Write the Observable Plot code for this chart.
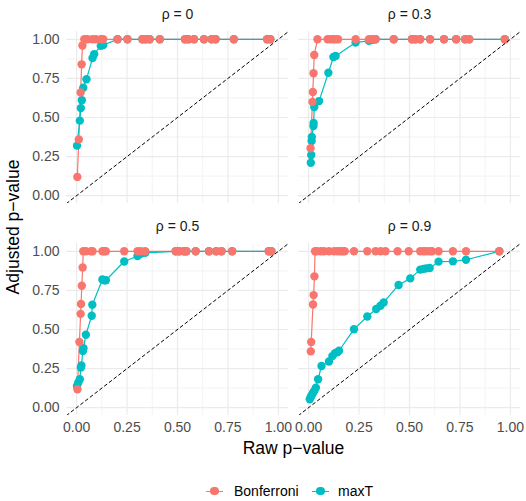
<!DOCTYPE html>
<html>
<head>
<meta charset="utf-8">
<script src="https://cdn.jsdelivr.net/npm/d3@7"></script>
<script src="https://cdn.jsdelivr.net/npm/@observablehq/plot@0.6"></script>
<style>
  body { margin: 0; background: #ffffff; }
  #wrap { position: relative; width: 526px; height: 501px; font-family: "Liberation Sans", Arial, sans-serif; background: #fff; }
  #wrap svg { display: block; }
  .ttl { position: absolute; color: #000; font-size: 17.5px; white-space: nowrap; }
  .leg { position: absolute; font-size: 14px; color: #000; white-space: nowrap; }
  .key { position: absolute; width: 17px; height: 17px; }
  .key .ln { position: absolute; left: 0; top: 8px; width: 17px; height: 1.2px; }
  .key .pt { position: absolute; left: 4.3px; top: 4.3px; width: 8.4px; height: 8.4px; border-radius: 50%; }
</style>
</head>
<body>
<div id="wrap"></div>
<script>
// ---- data ----
const panelLabels = ["ρ = 0", "ρ = 0.3", "ρ = 0.5", "ρ = 0.9"];
const methods = ["Bonferroni", "maxT"];
const methodColors = ["#F8766D", "#00BFC4"];
const tickValues = [0, 0.25, 0.5, 0.75, 1];
const minorTickValues = [0.125, 0.375, 0.625, 0.875];
const axisDomain = [-0.05, 1.05];

// rho = 0
const bonfRaw0 = [0.0036, 0.011, 0.020, 0.025, 0.029, 0.038, 0.054, 0.079, 0.095, 0.120, 0.132, 0.203, 0.252, 0.326, 0.343, 0.362, 0.412, 0.537, 0.554, 0.582, 0.631, 0.669, 0.689, 0.779, 0.944, 0.960];
const bonfAdj0 = [0.12, 0.36, 0.66, 0.84, 0.96, 1, 1, 1, 1, 1, 1, 1, 1, 1, 1, 1, 1, 1, 1, 1, 1, 1, 1, 1, 1, 1];
const maxTRaw0 = [0.002, 0.016, 0.021, 0.026, 0.033, 0.049, 0.079, 0.087, 0.120, 0.132, 0.203, 0.252, 0.326, 0.343, 0.362, 0.412, 0.537, 0.554, 0.582, 0.631, 0.669, 0.689, 0.779, 0.944, 0.960];
const maxTAdj0 = [0.32, 0.48, 0.56, 0.61, 0.69, 0.745, 0.88, 0.905, 0.958, 0.964, 1, 1, 1, 1, 1, 1, 1, 1, 1, 1, 1, 1, 1, 1, 1];

// rho = 0.3
const bonfRaw1 = [0.0095, 0.019, 0.021, 0.0245, 0.028, 0.044, 0.094, 0.110, 0.123, 0.134, 0.146, 0.233, 0.299, 0.315, 0.332, 0.422, 0.512, 0.529, 0.553, 0.602, 0.671, 0.731, 0.775, 0.796, 0.972];
const bonfAdj1 = [0.303, 0.60, 0.663, 0.783, 0.90, 1, 1, 1, 1, 1, 1, 1, 1, 1, 1, 1, 1, 1, 1, 1, 1, 1, 1, 1, 1];
const maxTRaw1 = [0.011, 0.013, 0.015, 0.016, 0.024, 0.025, 0.028, 0.052, 0.098, 0.123, 0.134, 0.233, 0.299, 0.315, 0.332, 0.422, 0.512, 0.529, 0.553, 0.602, 0.671, 0.731, 0.775, 0.796, 0.972];
const maxTAdj1 = [0.211, 0.26, 0.35, 0.375, 0.446, 0.465, 0.567, 0.605, 0.786, 0.887, 0.893, 0.98, 0.99, 0.995, 1, 1, 1, 1, 1, 1, 1, 1, 1, 1, 1];

// rho = 0.5
const bonfRaw2 = [0.004, 0.014, 0.020, 0.022, 0.026, 0.030, 0.033, 0.046, 0.071, 0.079, 0.128, 0.137, 0.145, 0.236, 0.302, 0.318, 0.340, 0.491, 0.508, 0.532, 0.544, 0.590, 0.656, 0.692, 0.718, 0.771, 0.952, 0.965];
const bonfAdj2 = [0.118, 0.42, 0.60, 0.663, 0.78, 0.897, 1, 1, 1, 1, 1, 1, 1, 1, 1, 1, 1, 1, 1, 1, 1, 1, 1, 1, 1, 1, 1, 1];
const maxTRaw2 = [0.002, 0.008, 0.016, 0.021, 0.024, 0.031, 0.034, 0.046, 0.075, 0.078, 0.128, 0.137, 0.145, 0.236, 0.302, 0.318, 0.340, 0.491, 0.508, 0.532, 0.544, 0.590, 0.656, 0.692, 0.718, 0.771, 0.952, 0.965];
const maxTAdj2 = [0.139, 0.16, 0.182, 0.256, 0.27, 0.363, 0.38, 0.466, 0.588, 0.658, 0.82, 0.815, 0.815, 0.935, 0.97, 0.985, 0.99, 1, 1, 1, 1, 1, 1, 1, 1, 1, 1, 1];

// rho = 0.9
const bonfRaw3 = [0.011, 0.013, 0.022, 0.025, 0.029, 0.032, 0.041, 0.061, 0.077, 0.101, 0.126, 0.143, 0.156, 0.168, 0.179, 0.225, 0.291, 0.332, 0.357, 0.381, 0.441, 0.496, 0.553, 0.570, 0.583, 0.600, 0.611, 0.644, 0.715, 0.780, 0.945];
const bonfAdj3 = [0.36, 0.42, 0.66, 0.72, 0.84, 1, 1, 1, 1, 1, 1, 1, 1, 1, 1, 1, 1, 1, 1, 1, 1, 1, 1, 1, 1, 1, 1, 1, 1, 1, 1];
const maxTRaw3 = [0.006, 0.011, 0.016, 0.022, 0.028, 0.036, 0.047, 0.064, 0.101, 0.118, 0.131, 0.142, 0.151, 0.225, 0.291, 0.335, 0.356, 0.372, 0.446, 0.504, 0.553, 0.570, 0.583, 0.600, 0.644, 0.715, 0.780, 0.945];
const maxTAdj3 = [0.054, 0.07, 0.08, 0.095, 0.107, 0.128, 0.182, 0.267, 0.295, 0.33, 0.349, 0.355, 0.364, 0.502, 0.583, 0.631, 0.652, 0.673, 0.785, 0.827, 0.883, 0.888, 0.891, 0.893, 0.934, 0.936, 0.946, 1.0];

// ---- build table ----
const panels = [
  {bonfRaw: bonfRaw0, bonfAdj: bonfAdj0, maxTRaw: maxTRaw0, maxTAdj: maxTAdj0},
  {bonfRaw: bonfRaw1, bonfAdj: bonfAdj1, maxTRaw: maxTRaw1, maxTAdj: maxTAdj1},
  {bonfRaw: bonfRaw2, bonfAdj: bonfAdj2, maxTRaw: maxTRaw2, maxTAdj: maxTAdj2},
  {bonfRaw: bonfRaw3, bonfAdj: bonfAdj3, maxTRaw: maxTRaw3, maxTAdj: maxTAdj3}
];
const rowsMaxT = [], rowsBonf = [], stripRows = [];
panels.forEach((s, i) => {
  const col = i % 2, row = Math.floor(i / 2);
  stripRows.push({col, row, label: panelLabels[i]});
  s.maxTRaw.forEach((p, j) => rowsMaxT.push({col, row, method: methods[1], p, adj: s.maxTAdj[j]}));
  s.bonfRaw.forEach((p, j) => rowsBonf.push({col, row, method: methods[0], p, adj: s.bonfAdj[j]}));
});

const fmt = d3.format(".2f");
const grid = "#EBEBEB";

const chart = Plot.plot({
  width: 526,
  height: 470,
  marginLeft: 66,
  marginRight: 5,
  marginTop: 30.5,
  marginBottom: 55.5,
  style: {fontFamily: "'Liberation Sans', Arial, sans-serif", fontSize: "14px", color: "#4D4D4D", background: "#ffffff", overflow: "visible"},
  fx: {domain: [0, 1], axis: null, paddingInner: 0.042, paddingOuter: 0},
  fy: {domain: [0, 1], axis: null, paddingInner: 0.19, paddingOuter: 0},
  x: {domain: axisDomain, ticks: tickValues, tickFormat: fmt, tickSize: 0, tickPadding: 7, label: null},
  y: {domain: axisDomain, ticks: tickValues, tickFormat: fmt, tickSize: 0, tickPadding: 7, label: null},
  color: {domain: methods, range: methodColors},
  marks: [
    Plot.ruleX(minorTickValues, {stroke: grid, strokeWidth: 0.6}),
    Plot.ruleY(minorTickValues, {stroke: grid, strokeWidth: 0.6}),
    Plot.ruleX(tickValues, {stroke: grid, strokeWidth: 1.2}),
    Plot.ruleY(tickValues, {stroke: grid, strokeWidth: 1.2}),
    Plot.line(rowsBonf, {fx: "col", fy: "row", x: "p", y: "adj", stroke: "method", strokeWidth: 1.2}),
    Plot.line(rowsMaxT, {fx: "col", fy: "row", x: "p", y: "adj", stroke: "method", strokeWidth: 1.2}),
    Plot.dot(rowsMaxT, {fx: "col", fy: "row", x: "p", y: "adj", fill: "method", r: 4.2}),
    Plot.dot(rowsBonf, {fx: "col", fy: "row", x: "p", y: "adj", fill: "method", r: 4.2}),
    Plot.line(axisDomain, {x: d => d, y: d => d, stroke: "#000", strokeWidth: 1, strokeDasharray: "3,3", clip: true}),
    Plot.text(stripRows, {fx: "col", fy: "row", text: "label", frameAnchor: "top", lineAnchor: "middle", dy: -16.5, fill: "#1A1A1A", fontSize: 14})
  ]
});

const wrap = document.getElementById("wrap");
wrap.appendChild(chart);

function addDiv(cls, text, css) {
  const d = document.createElement("div");
  d.className = cls;
  if (text) d.textContent = text;
  Object.assign(d.style, css);
  wrap.appendChild(d);
  return d;
}
// axis titles
addDiv("ttl", "Raw p\u2212value", {left: "293.5px", top: "448px", transform: "translate(-50%,-50%)"});
addDiv("ttl", "Adjusted p\u2212value", {left: "13px", top: "227px", transform: "translate(-50%,-50%) rotate(-90deg)"});

// legend
const legendItems = [
  {name: methods[0], color: methodColors[0], keyX: 206, textX: 234},
  {name: methods[1], color: methodColors[1], keyX: 312, textX: 338}
];
legendItems.forEach(it => {
  const k = addDiv("key", null, {left: it.keyX + "px", top: "482.5px"});
  const ln = document.createElement("div"); ln.className = "ln"; ln.style.background = it.color; k.appendChild(ln);
  const pt = document.createElement("div"); pt.className = "pt"; pt.style.background = it.color; k.appendChild(pt);
  addDiv("leg", it.name, {left: it.textX + "px", top: "491px", transform: "translateY(-50%)"});
});
</script>
</body>
</html>
